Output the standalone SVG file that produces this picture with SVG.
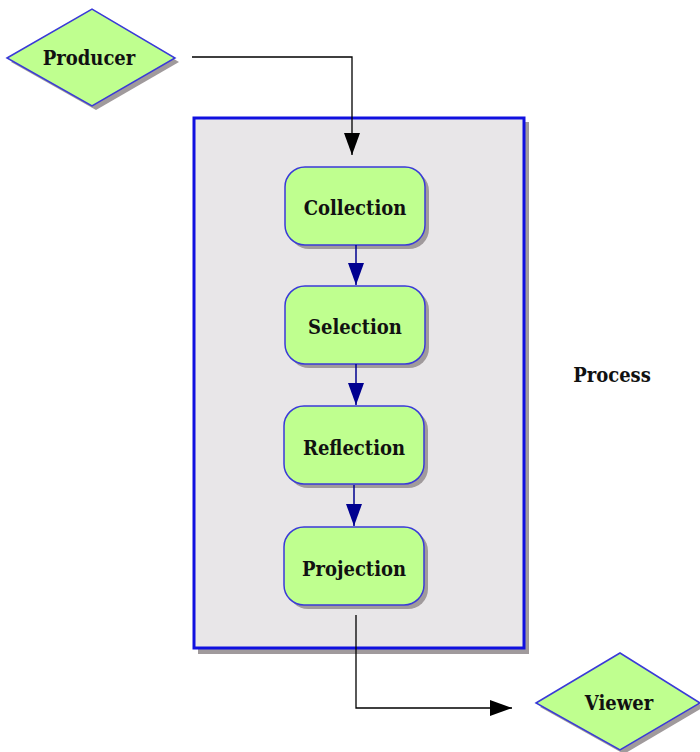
<svg xmlns="http://www.w3.org/2000/svg" width="700" height="752" viewBox="0 0 700 752">
<style>
.sh{fill:#a09a9c}
.node{fill:#bfff8f;stroke:#3a3ad8;stroke-width:1.5}
.lbl{font-family:"DejaVu Serif Condensed","DejaVu Serif",serif;font-weight:bold;font-size:20px;fill:#111;text-anchor:middle}
.flow{stroke:#000;stroke-width:1.3;fill:none}
.inner{stroke:#000090;stroke-width:1.5;fill:none}
</style>
<defs>
<marker id="ai" viewBox="0 0 10 10" refX="10" refY="5" markerWidth="22" markerHeight="16" markerUnits="userSpaceOnUse" orient="auto" preserveAspectRatio="none"><path d="M0,0 L10,5 L0,10 Z" fill="#000090"/></marker>
<marker id="ab2" viewBox="0 0 10 10" refX="10" refY="5" markerWidth="22" markerHeight="16" markerUnits="userSpaceOnUse" orient="auto" preserveAspectRatio="none"><path d="M0,0 L10,5 L0,10 Z" fill="#000"/></marker>
</defs>
<g id="process">
<rect x="198" y="122" width="331" height="532" class="sh"/>
<rect x="194" y="118" width="330" height="530" fill="#e8e6e8" stroke="#1010e0" stroke-width="3"/>
<text x="612" y="382" class="lbl">Process</text>
</g>
<g id="producer">
<polygon points="11,62 96,13 179,62 96,110" class="sh"/>
<polygon points="7,58 92,9 175,58 92,106" class="node"/>
<text x="89" y="65" class="lbl">Producer</text>
</g>
<g id="viewer">
<polygon points="540,707 624,657 704,707 624,754" class="sh"/>
<polygon points="536,703 620,653 700,703 620,750" class="node"/>
<text x="619" y="710" class="lbl">Viewer</text>
</g>
<g id="collection">
<rect x="289" y="171" width="140" height="78" rx="20" class="sh"/>
<rect x="285" y="167" width="140" height="78" rx="20" class="node"/>
<text x="355" y="215" class="lbl">Collection</text>
</g>
<g id="selection">
<rect x="289" y="290" width="140" height="78" rx="20" class="sh"/>
<rect x="285" y="286" width="140" height="78" rx="20" class="node"/>
<text x="355" y="334" class="lbl">Selection</text>
</g>
<g id="reflection">
<rect x="288" y="410" width="140" height="78" rx="20" class="sh"/>
<rect x="284" y="406" width="140" height="78" rx="20" class="node"/>
<text x="354" y="455" class="lbl">Reflection</text>
</g>
<g id="projection">
<rect x="288" y="531" width="140" height="78" rx="20" class="sh"/>
<rect x="284" y="527" width="140" height="78" rx="20" class="node"/>
<text x="354" y="576" class="lbl">Projection</text>
</g>
<g id="connectors">
<polyline points="192,57 352,57 352,155" class="flow" marker-end="url(#ab2)"/>
<line x1="356" y1="245" x2="356" y2="285" class="inner" marker-end="url(#ai)"/>
<line x1="356" y1="364" x2="356" y2="405" class="inner" marker-end="url(#ai)"/>
<line x1="354" y1="485" x2="354" y2="526" class="inner" marker-end="url(#ai)"/>
<polyline points="356,615 356,708 512,708" class="flow" marker-end="url(#ab2)"/>
</g>
</svg>
